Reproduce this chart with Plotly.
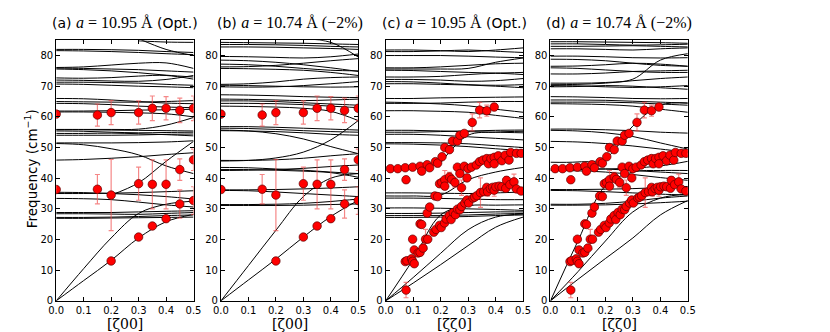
import plotly.graph_objects as go

# reduced wave vector grid at which the calculated branches were read
ZETA = [0.0, 0.1, 0.2, 0.3, 0.4, 0.5]

# calculated dispersion branches (cm^-1), one row per branch
BANDS_A = [
    [82.0, 82.0, 81.9, 81.7, 81.3, 81.0],
    [81.6, 81.5, 81.3, 81.0, 80.6, 80.3],
    [None, None, None, 85.5, 82.0, 80.0],
    [None, None, None, 84.8, 84.4, 84.3],
    [76.1, 76.3, 76.9, 77.5, 77.6, 75.8],
    [75.9, 75.8, 75.6, 75.4, 75.0, 74.6],
    [75.6, 75.4, 75.0, 74.4, 73.6, 73.0],
    [72.7, 72.6, 72.8, 73.3, 73.5, 72.3],
    [72.0, 71.9, 71.7, 71.6, 72.2, 73.5],
    [71.3, 71.3, 71.2, 71.0, 70.6, 70.3],
    [70.7, 70.6, 70.3, 70.0, 69.8, 69.5],
    [66.0, 65.9, 65.5, 65.0, 64.5, 64.3],
    [65.0, 64.9, 64.8, 64.8, 65.0, 65.3],
    [64.4, 64.3, 64.0, 63.5, 63.2, 63.0],
    [61.9, 61.9, 62.0, 62.2, 62.3, 62.5],
    [61.6, 61.6, 61.5, 61.3, 61.0, 60.0],
    [55.9, 55.9, 55.9, 56.0, 57.3, 59.8],
    [55.8, 55.8, 55.7, 55.6, 55.5, 55.4],
    [55.4, 55.3, 55.0, 54.8, 54.9, 55.0],
    [54.6, 54.6, 54.7, 54.5, 54.2, 53.8],
    [54.0, 54.0, 54.0, 54.1, 54.3, 54.4],
    [51.5, 51.5, 51.5, 51.6, 51.8, 52.2],
    [51.3, 50.9, 49.6, 47.6, 44.0, 41.5],
    [45.9, 46.1, 46.5, 47.0, 47.7, 48.3],
    [None, None, 34.5, 38.5, 45.5, 52.0],
    [35.4, 35.3, 35.0, 34.6, 34.0, 33.2],
    [35.0, 35.0, 35.1, 35.3, 35.6, 35.9],
    [33.4, 33.3, 33.0, 32.2, 31.3, 30.6],
    [28.8, 28.8, 28.8, 29.0, 29.2, 29.4],
    [28.4, 28.4, 28.3, 28.2, 28.5, 28.8],
    [27.2, 27.2, 27.3, 27.5, 27.8, 28.0],
    [26.9, 26.9, 27.0, 27.1, 27.2, 27.3],
    [0.0, 6.6, 13.2, 20.5, 25.8, 28.2],
    [0.0, 10.5, 20.5, 28.5, 31.5, 32.5],
]

BANDS_B = [
    [84.3, 84.2, 84.1, 84.0, 83.8, 83.6],
    [83.6, 83.6, 83.5, 83.3, 83.0, 82.8],
    [82.8, 82.8, 82.7, 82.5, 82.3, 82.0],
    [None, None, None, 85.5, 84.3, 79.5],
    [79.7, 79.6, 79.4, 79.2, 79.6, 80.5],
    [78.5, 78.3, 77.8, 77.0, 76.0, 74.8],
    [76.3, 76.4, 76.8, 77.5, 78.3, 79.0],
    [77.2, 77.0, 76.5, 75.8, 75.2, 75.0],
    [75.8, 75.7, 75.5, 75.2, 74.5, 73.5],
    [70.6, 70.8, 71.4, 72.3, 72.8, 73.0],
    [70.3, 70.2, 70.0, 69.8, 69.7, 69.8],
    [69.8, 69.7, 69.8, 70.2, 70.8, 71.5],
    [67.2, 67.1, 66.9, 66.6, 66.4, 66.3],
    [65.8, 65.7, 65.5, 65.3, 65.5, 65.8],
    [65.2, 65.2, 65.0, 64.6, 64.2, 63.8],
    [64.4, 64.4, 64.3, 64.0, 63.5, 63.0],
    [63.5, 63.4, 63.2, 62.8, 61.8, 58.8],
    [56.8, 56.8, 56.6, 56.3, 56.0, 55.7],
    [56.3, 56.2, 55.9, 55.5, 55.2, 55.0],
    [55.7, 55.4, 54.5, 52.8, 50.3, 48.0],
    [55.5, 55.4, 55.2, 54.8, 54.3, 54.0],
    [45.6, 45.8, 46.6, 48.5, 52.5, 58.8],
    [45.8, 45.8, 46.0, 46.5, 47.3, 48.0],
    [43.5, 43.4, 43.0, 42.6, 42.0, 41.5],
    [42.8, 42.8, 42.6, 42.3, 41.8, 40.3],
    [42.5, 42.6, 42.8, 43.2, 43.8, 44.3],
    [36.2, 36.2, 36.3, 36.5, 36.8, 37.2],
    [36.0, 35.9, 35.5, 35.0, 34.5, 34.0],
    [31.4, 31.4, 31.5, 31.8, 32.4, 33.2],
    [31.1, 31.1, 31.1, 31.2, 31.4, 31.6],
    [0.0, 6.8, 13.6, 20.8, 27.5, 32.8],
    [0.0, 11.5, 23.0, 34.0, 40.0, 41.5],
]

BANDS_C = [
    [81.8, 81.8, 81.6, 81.3, 81.8, 82.5],
    [81.3, 81.3, 81.5, 81.8, 81.4, 81.0],
    [80.0, 80.0, 80.0, 79.8, 79.5, 79.3],
    [75.6, 75.6, 75.6, 75.8, 77.8, 79.2],
    [76.0, 76.0, 76.3, 76.8, 77.3, 77.5],
    [75.2, 75.1, 74.8, 74.5, 74.3, 74.5],
    [73.0, 73.0, 73.2, 73.8, 74.2, 73.8],
    [72.2, 72.2, 72.0, 71.6, 71.8, 72.5],
    [71.5, 71.4, 71.0, 70.5, 70.3, 70.5],
    [70.8, 70.8, 70.6, 70.4, 70.0, 69.5],
    [66.0, 66.0, 66.2, 66.3, 66.4, 66.5],
    [64.8, 64.6, 64.2, 63.6, 62.5, 61.5],
    [64.4, 64.4, 64.5, 64.8, 65.0, 65.0],
    [62.0, 62.0, 61.8, 61.5, 60.5, 59.5],
    [55.6, 55.6, 55.4, 55.2, 55.0, 54.8],
    [55.0, 55.0, 55.2, 55.4, 55.6, 55.7],
    [54.3, 54.3, 54.0, 53.5, 53.0, 52.5],
    [51.6, 51.6, 51.5, 51.2, 50.6, 50.0],
    [51.2, 51.1, 50.8, 50.3, 49.6, 49.0],
    [None, None, 45.0, 54.0, 55.0, 55.3],
    [34.2, 34.2, 34.5, 39.5, 42.0, 43.5],
    [35.2, 35.2, 35.1, 35.0, 35.2, 35.5],
    [33.5, 33.5, 33.4, 33.2, 33.0, 33.0],
    [30.3, 30.3, 30.2, 30.0, 29.8, 29.5],
    [28.5, 28.5, 28.6, 28.8, 29.0, 29.0],
    [27.8, 27.8, 27.8, 28.0, 28.3, 28.5],
    [27.2, 27.2, 27.3, 27.5, 27.8, 28.0],
    [0.0, 13.5, 28.0, 31.0, 31.2, 31.3],
    [0.0, 7.6, 15.5, 23.2, 27.3, 28.3],
    [0.0, 5.8, 11.8, 18.0, 24.0, 27.3],
]

BANDS_D = [
    [84.5, 84.5, 84.4, 84.3, 84.2, 84.0],
    [83.8, 83.8, 83.6, 83.4, 83.5, 83.7],
    [83.0, 83.0, 83.1, 83.2, 83.0, 82.8],
    [82.2, 82.2, 82.0, 81.8, 82.2, 82.5],
    [71.0, 71.0, 71.2, 72.3, 78.5, 80.6],
    [79.8, 79.8, 79.6, 79.3, 79.2, 79.3],
    [78.8, 78.7, 78.3, 77.5, 76.8, 76.5],
    [76.5, 76.6, 77.0, 77.5, 77.2, 76.5],
    [76.0, 75.8, 75.3, 74.8, 74.5, 74.5],
    [74.0, 74.0, 74.3, 74.8, 75.0, 75.2],
    [70.5, 70.6, 71.0, 71.8, 72.5, 73.0],
    [70.2, 70.1, 69.8, 69.6, 69.8, 70.2],
    [69.8, 69.9, 70.2, 70.0, 69.5, 69.0],
    [66.6, 66.5, 66.3, 66.0, 65.9, 66.0],
    [65.5, 65.5, 65.4, 65.1, 64.8, 64.5],
    [64.8, 64.8, 64.8, 64.6, 64.2, 63.8],
    [64.3, 64.2, 64.0, 63.5, 62.5, 61.5],
    [56.0, 56.0, 55.8, 55.5, 55.0, 54.7],
    [55.6, 55.4, 54.8, 53.6, 51.5, 49.5],
    [45.2, 45.3, 46.5, 57.0, 63.8, 64.5],
    [52.0, 51.8, 51.3, 50.5, 49.5, 48.5],
    [43.1, 43.1, 43.0, 42.5, 42.0, 41.5],
    [42.8, 42.8, 43.0, 43.3, 44.0, 45.5],
    [42.5, 42.4, 42.0, 41.2, 40.2, 39.3],
    [36.3, 36.3, 36.4, 36.6, 36.9, 37.3],
    [36.0, 35.9, 35.6, 35.2, 34.8, 34.5],
    [31.5, 31.5, 31.8, 32.5, 33.5, 34.2],
    [31.2, 31.2, 31.3, 31.6, 32.0, 32.5],
    [0.0, 19.5, 37.5, 42.0, 42.5, 42.5],
    [0.0, 9.5, 19.5, 29.0, 33.5, 34.8],
    [0.0, 7.0, 13.8, 20.5, 28.0, 32.7],
]

# measured phonons along [z00]
Z00_Q = [0.0, 0.0, 0.15, 0.2, 0.3, 0.35, 0.4, 0.45, 0.5,
         0.15, 0.2, 0.3, 0.35, 0.4, 0.45, 0.5,
         0.45, 0.5, 0.4, 0.35, 0.3, 0.2]
Z00_F = [60.9, 36.3, 60.6, 61.4, 61.4, 62.8, 62.8, 62.1, 62.8,
         36.4, 34.5, 38.2, 38.0, 38.0, 42.8, 46.0,
         31.6, 32.7, 26.8, 24.4, 20.8, 13.0]
Z00_ERR = [0.0, 0.0, 3.6, 3.9, 3.8, 4.0, 3.8, 4.0, 4.0,
           4.8, 11.6, 5.4, 8.0, 8.0, 3.5, 3.5,
           4.6, 4.5, 0.0, 0.0, 0.0, 0.0]

# measured phonons along [zz0]
ZZ0_Q = [0.017, 0.044, 0.071, 0.098, 0.125, 0.131, 0.151, 0.160, 0.181, 0.189,
         0.205, 0.215, 0.232, 0.243, 0.261, 0.270, 0.286, 0.315, 0.342, 0.368, 0.395,
         0.074, 0.196, 0.204, 0.215, 0.215, 0.232, 0.240, 0.252, 0.261, 0.270,
         0.276, 0.286, 0.296, 0.300, 0.312, 0.330, 0.342, 0.354, 0.368, 0.374,
         0.383, 0.395, 0.395, 0.410, 0.423, 0.435, 0.449, 0.455, 0.476, 0.493,
         0.071, 0.077, 0.094, 0.098, 0.104, 0.098, 0.104, 0.118, 0.125, 0.136,
         0.125, 0.131, 0.145, 0.153, 0.151, 0.160, 0.179, 0.189, 0.074,
         0.175, 0.183, 0.196, 0.202, 0.214, 0.220, 0.232, 0.238, 0.246, 0.254,
         0.261, 0.270, 0.276, 0.288, 0.296, 0.302, 0.318, 0.324, 0.332, 0.345,
         0.357, 0.368, 0.371, 0.381, 0.389, 0.395, 0.401, 0.413, 0.423, 0.437,
         0.440, 0.452, 0.467, 0.476, 0.493]
ZZ0_F = [43.1, 43.1, 43.4, 43.6, 43.9, 42.3, 44.4, 43.4, 45.4, 44.9,
         47.0, 50.0, 49.3, 52.1, 52.1, 54.0, 54.6, 58.2, 62.2, 62.0, 63.2,
         39.5, 38.2, 38.6, 39.5, 37.4, 40.4, 39.6, 38.6, 43.6, 41.5,
         36.9, 43.9, 40.1, 43.1, 43.6, 44.3, 45.4, 45.9, 46.4, 44.7,
         46.4, 46.8, 44.7, 47.3, 45.7, 47.5, 45.9, 48.4, 48.1, 48.1,
         12.8, 13.1, 13.7, 12.9, 12.1, 20.1, 16.6, 15.6, 15.8, 17.2,
         25.1, 24.9, 20.1, 20.1, 28.6, 30.6, 34.2, 34.0, 3.5,
         22.4, 23.3, 24.6, 23.9, 25.4, 26.7, 27.8, 26.5, 28.8, 28.1,
         29.9, 29.7, 30.8, 31.9, 32.9, 31.9, 33.5, 33.8, 34.3, 35.3,
         35.6, 37.0, 35.6, 36.6, 37.0, 36.1, 37.2, 37.4, 37.2, 36.7,
         39.3, 37.9, 38.8, 36.5, 35.8]
ZZ0_ERR = [1.0, 0.6, 0.6, 0.6, 0.6, 0.6, 0.6, 0.6, 0.6, 1.2,
           0.6, 0.6, 0.6, 0.6, 0.6, 0.6, 0.6, 2.8, 2.5, 1.8, 1.2,
           1.0, 1.0, 0.8, 3.0, 1.0, 1.5, 1.0, 1.5, 0.8, 1.0,
           2.5, 0.8, 0.8, 0.8, 0.8, 0.8, 0.8, 0.8, 0.8, 0.8,
           0.8, 0.8, 0.8, 0.8, 0.8, 0.8, 0.8, 0.8, 0.8, 0.8,
           0.8, 0.8, 0.8, 0.8, 0.8, 0.8, 0.8, 0.8, 0.8, 0.8,
           0.8, 0.8, 3.2, 0.8, 0.8, 0.8, 0.8, 0.8, 2.5,
           0.8, 0.8, 0.8, 1.0, 0.8, 0.8, 0.8, 0.8, 0.8, 0.8,
           0.8, 0.8, 0.8, 0.8, 0.8, 0.8, 0.8, 0.8, 0.8, 4.8,
           0.8, 0.8, 1.5, 0.8, 0.8, 2.0, 0.8, 0.8, 0.8, 0.8,
           1.2, 0.8, 2.5, 0.8, 0.8]

SERIF = "Liberation Serif"
SANS = "DejaVu Sans"

def math(s):
    return f"<span style='font-family:{SERIF};font-size:16px'>{s}</span>"

PANELS = [
    ("(a) " + math("<i>a</i> = 10.95 Å") + " (Opt.)", BANDS_A, "z00"),
    ("(b) " + math("<i>a</i> = 10.74 Å (−2%)"), BANDS_B, "z00"),
    ("(c) " + math("<i>a</i> = 10.95 Å") + " (Opt.)", BANDS_C, "zz0"),
    ("(d) " + math("<i>a</i> = 10.74 Å (−2%)"), BANDS_D, "zz0"),
]
X_DOMAINS = [(0.0494, 0.2181), (0.2518, 0.4205), (0.4542, 0.6229), (0.6566, 0.8253)]
Y_DOMAIN = (0.1045, 0.9015)

fig = go.Figure()
annotations = []

for i, (title, bands, direction) in enumerate(PANELS):
    n = "" if i == 0 else str(i + 1)
    xref, yref = f"x{n}", f"y{n}"
    for b in bands:
        fig.add_trace(go.Scatter(
            x=ZETA, y=b, mode="lines", xaxis=xref, yaxis=yref,
            line=dict(color="black", width=1, shape="spline", smoothing=1),
            hoverinfo="skip",
        ))
    if direction == "z00":
        q, f, e = Z00_Q, Z00_F, Z00_ERR
        xlabel = "[ζ00]"
    else:
        q, f, e = ZZ0_Q, ZZ0_F, ZZ0_ERR
        xlabel = "[ζζ0]"
    fig.add_trace(go.Scatter(
        x=q, y=f, mode="markers", xaxis=xref, yaxis=yref,
        error_y=dict(type="data", array=e, visible=True,
                     color="rgba(240,70,70,0.65)", thickness=1.2, width=2.5),
        marker=dict(size=8.5, color="#ff0000", line=dict(color="#600000", width=0.7)),
    ))

    axis_common = dict(showgrid=False, zeroline=False, showline=True,
                       linecolor="black", linewidth=1, mirror="ticks",
                       ticks="inside", ticklen=4, tickwidth=0.8, tickcolor="black",
                       tickfont=dict(family=SANS, size=10, color="black"))
    fig.layout[f"xaxis{n}"] = dict(
        domain=X_DOMAINS[i], range=[0, 0.5], anchor=yref,
        tickvals=[0, 0.1, 0.2, 0.3, 0.4, 0.5], tickformat=".1f", **axis_common)
    fig.layout[f"yaxis{n}"] = dict(
        domain=Y_DOMAIN, range=[0, 85], anchor=xref,
        tickvals=list(range(0, 81, 10)), **axis_common)

    cx = (X_DOMAINS[i][0] + X_DOMAINS[i][1]) / 2
    annotations.append(dict(
        text=title, x=cx, y=0.955, xref="paper", yref="paper",
        xanchor="center", yanchor="middle", showarrow=False,
        font=dict(family=SANS, size=14, color="black")))
    annotations.append(dict(
        text=xlabel, x=cx, y=1 / 332, xref="paper", yref="paper",
        xanchor="center", yanchor="bottom", showarrow=False,
        font=dict(family="DejaVu Serif", size=14, color="black")))

annotations.append(dict(
    text="Frequency (cm<sup>−1</sup>)", x=15 / 830, y=1 - 163 / 332,
    xref="paper", yref="paper", xanchor="center", yanchor="middle",
    textangle=-90, showarrow=False,
    font=dict(family=SANS, size=13.5, color="black")))

fig.update_layout(
    width=830, height=332,
    margin=dict(l=0, r=0, t=0, b=0),
    paper_bgcolor="white", plot_bgcolor="white",
    showlegend=False,
    annotations=annotations,
)

fig.write_html("out.html")
